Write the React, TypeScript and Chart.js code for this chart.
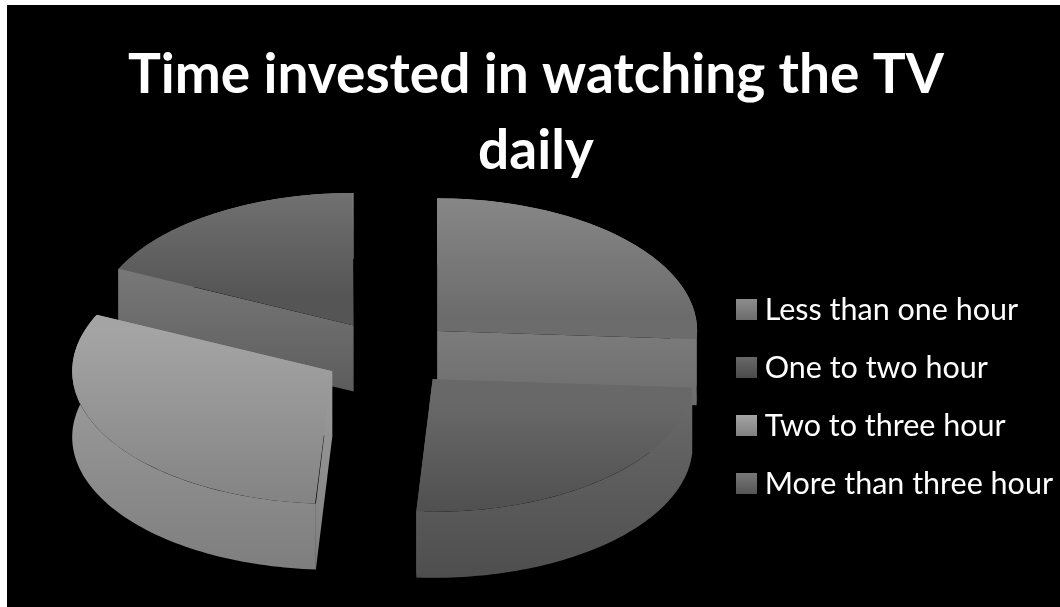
import React, { useEffect, useRef } from "react";
import { Chart, registerables } from "chart.js";

Chart.register(...registerables);

const titleLines = ["Time invested in watching the TV", "daily"];
const categories = ["Less than one hour", "One to two hour", "Two to three hour", "More than three hour"];
const shares = [26, 25, 31, 18];

const topFrom = ["#8c8c8c", "#686868", "#a4a4a4", "#787878"];
const topTo = ["#6c6c6c", "#4a4a4a", "#808080", "#555555"];
const wallFrom = ["#959595", "#6c6c6c", "#a6a6a6", "#8a8a8a"];
const wallTo = ["#6d6d6d", "#4e4e4e", "#7e7e7e", "#5c5c5c"];
const paintOrder = [3, 0, 2, 1];

const CX = 389;
const CY = 354;
const SQUASH = 0.51;
const DEPTH = 66;
const RADIUS = 260;
const EXPLODE = 66;

function swatch(from: string, to: string) {
  const c = document.createElement("canvas");
  c.width = 21;
  c.height = 21;
  const x = c.getContext("2d")!;
  const g = x.createLinearGradient(0, 0, 0, 21);
  g.addColorStop(0, from);
  g.addColorStop(1, to);
  x.fillStyle = g;
  x.fillRect(0, 0, 21, 21);
  return c;
}

function vGrad(ctx: CanvasRenderingContext2D, y0: number, y1: number, a: string, b: string) {
  const g = ctx.createLinearGradient(0, y0, 0, y1);
  g.addColorStop(0, a);
  g.addColorStop(1, b);
  return g;
}

function geometry(arc: any) {
  const p = arc.getProps(["startAngle", "endAngle", "x", "y"], true);
  const mid = (p.startAngle + p.endAngle) / 2;
  const ox = Math.cos(mid) * EXPLODE;
  const oy = Math.sin(mid) * EXPLODE;
  let sinMin = 0;
  let sinMax = 0;
  for (let k = 0; k <= 60; k++) {
    const s = Math.sin(p.startAngle + ((p.endAngle - p.startAngle) * k) / 60);
    sinMin = Math.min(sinMin, s);
    sinMax = Math.max(sinMax, s);
  }
  return { ...p, ox, oy, sinMin, sinMax };
}

const pie3d = {
  id: "pie3d",
  beforeDraw(chart: any) {
    const { ctx } = chart;
    ctx.save();
    ctx.fillStyle = "#000";
    ctx.fillRect(7, 5, chart.width - 7, chart.height - 5);
    ctx.restore();
  },
  beforeDatasetDraw(chart: any, args: any) {
    const { ctx } = chart;
    const arcs = args.meta.data;
    for (const i of paintOrder) {
      const g = geometry(arcs[i]);
      const R = RADIUS;
      const ax = CX + g.ox;
      const ay = CY + g.oy * SQUASH;
      const px = (a: number) => ax + R * Math.cos(a);
      const py = (a: number) => ay + R * Math.sin(a) * SQUASH;
      const fill = vGrad(ctx, ay + R * g.sinMin * SQUASH, ay + R * g.sinMax * SQUASH + DEPTH, wallFrom[i], wallTo[i]);
      ctx.save();
      ctx.fillStyle = fill;
      for (const a of [g.startAngle, g.endAngle]) {
        ctx.beginPath();
        ctx.moveTo(ax, ay);
        ctx.lineTo(px(a), py(a));
        ctx.lineTo(px(a), py(a) + DEPTH);
        ctx.lineTo(ax, ay + DEPTH);
        ctx.closePath();
        ctx.fill();
      }
      ctx.beginPath();
      const n = 80;
      for (let k = 0; k <= n; k++) {
        const a = g.startAngle + ((g.endAngle - g.startAngle) * k) / n;
        if (k === 0) ctx.moveTo(px(a), py(a));
        else ctx.lineTo(px(a), py(a));
      }
      for (let k = n; k >= 0; k--) {
        const a = g.startAngle + ((g.endAngle - g.startAngle) * k) / n;
        ctx.lineTo(px(a), py(a) + DEPTH);
      }
      ctx.closePath();
      ctx.fill();
      ctx.restore();

      // Chart.js widens an offset arc depending on its sweep; cancel that.
      const sweep = g.endAngle - g.startAngle;
      arcs[i].outerRadius = R - EXPLODE * (1 - Math.sin(Math.min(Math.PI, sweep)));
      arcs[i].options = {
        ...arcs[i].options,
        backgroundColor: vGrad(ctx, g.y + g.oy + R * g.sinMin, g.y + g.oy + R * g.sinMax, topFrom[i], topTo[i]),
      };
    }
    const c = geometry(arcs[0]);
    ctx.save();
    ctx.translate(CX, CY);
    ctx.scale(1, SQUASH);
    ctx.translate(-c.x, -c.y);
  },
  afterDatasetDraw(chart: any) {
    chart.ctx.restore();
  },
};

export default function App() {
  const ref = useRef<HTMLCanvasElement>(null);
  useEffect(() => {
    const swatches = categories.map((_, i) => swatch(topFrom[i], topTo[i]));
    const chart = new Chart(ref.current!, {
      type: "pie",
      data: {
        labels: categories,
        datasets: [
          {
            data: shares,
            backgroundColor: topFrom,
            borderWidth: 0,
            offset: EXPLODE * 4,
            clip: false,
          } as any,
        ],
      },
      options: {
        responsive: false,
        animation: false,
        radius: RADIUS,
        layout: { padding: { left: 9, right: -3, top: 5, bottom: 12 } },
        events: [],
        plugins: {
          tooltip: { enabled: false },
          title: {
            display: true,
            text: titleLines,
            color: "#ffffff",
            font: { family: "Lato", weight: "bold", size: 55, lineHeight: 1.38 },
            padding: { top: 32, bottom: 10 },
          },
          legend: {
            position: "right",
            fullSize: false,
            labels: {
              color: "#ffffff",
              font: { family: "Lato", size: 30.5 },
              padding: 27.5,
              usePointStyle: true,
              pointStyleWidth: 5,
              generateLabels: () =>
                categories.map((text, i) => ({
                  text,
                  fontColor: "#ffffff",
                  fillStyle: topFrom[i],
                  strokeStyle: topFrom[i],
                  lineWidth: 0,
                  pointStyle: swatches[i],
                  hidden: false,
                  index: i,
                })),
            },
          },
        },
      } as any,
      plugins: [pie3d],
    } as any);
    return () => chart.destroy();
  }, []);
  return (
    <div style={{ position: "absolute", left: 0, top: 0, width: 1060, height: 607, background: "#fff", overflow: "hidden" }}>
      <canvas ref={ref} width={1060} height={607} style={{ display: "block" }} />
    </div>
  );
}
